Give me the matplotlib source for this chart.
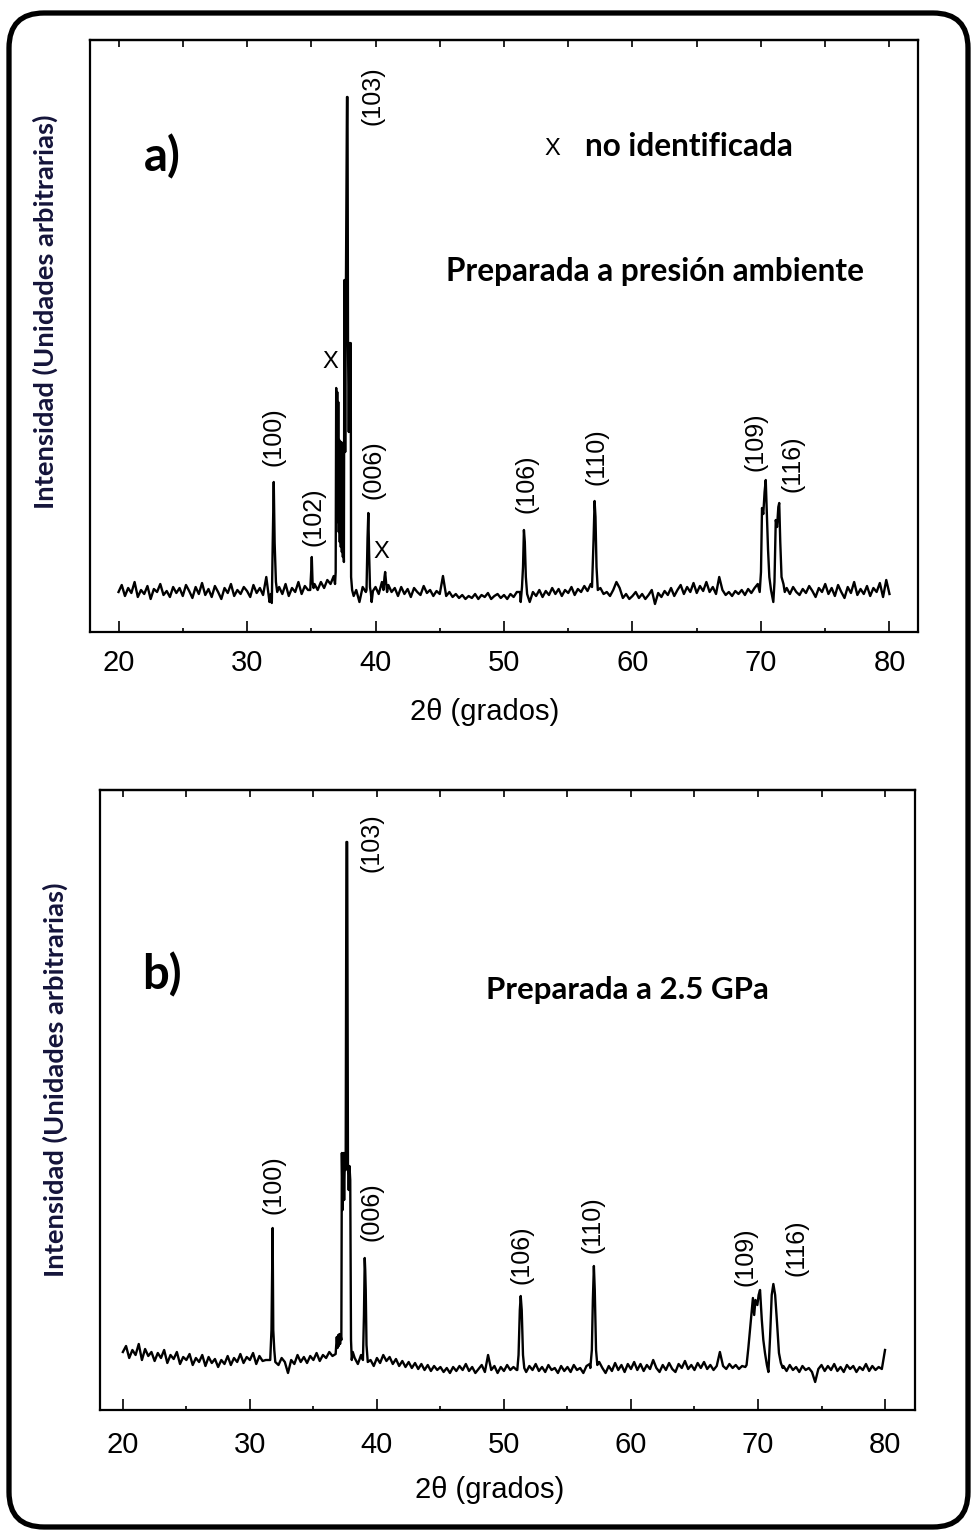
import numpy as np
import matplotlib.pyplot as plt
from matplotlib.patches import FancyBboxPatch
from matplotlib.transforms import IdentityTransform
from matplotlib.ticker import MultipleLocator

# 2theta positions of the background readings (every 0.25 deg, 20..80)
tt_bg = np.arange(20, 80.01, 0.25)

# background intensity (arb. units)
bg_a = [40, 47, 36, 44, 39, 50, 35, 42, 38, 46, 33, 43, 40, 48, 37, 41, 35, 45, 39, 44,
        36, 47, 41, 34, 45, 38, 49, 37, 43, 35, 46, 40, 33, 44, 39, 48, 36, 42, 38, 45,
        41, 35, 47, 39, 44, 37, 55, 30, 40, 40, 45, 38, 48, 36, 44, 40, 50, 38, 46, 42,
        44, 48, 42, 50, 44, 52, 48, 56, 50, 50, 50, 50, 50, 50, 42, 30, 45, 40, 40, 36,
        45, 38, 50, 55, 47, 40, 44, 36, 45, 38, 43, 35, 44, 40, 37, 46, 39, 42, 36, 41,
        38, 56, 36, 40, 35, 38, 34, 37, 33, 36, 34, 38, 33, 37, 35, 39, 33, 36, 38, 34,
        37, 33, 38, 35, 40, 40, 40, 40, 30, 40, 36, 42, 35, 41, 37, 44, 38, 43, 36, 42,
        39, 45, 37, 43, 40, 46, 41, 48, 40, 40, 44, 38, 40, 36, 42, 50, 44, 34, 38, 33,
        36, 40, 34, 38, 33, 37, 42, 28, 39, 35, 41, 37, 44, 36, 42, 47, 38, 45, 40, 49,
        39, 46, 41, 50, 40, 45, 38, 55, 42, 37, 40, 36, 41, 38, 42, 37, 43, 39, 44, 48,
        40, 40, 40, 40, 40, 40, 40, 40, 44, 38, 45, 40, 37, 43, 39, 46, 41, 35, 44, 40,
        48, 38, 44, 36, 47, 40, 34, 45, 39, 50, 37, 43, 38, 46, 36, 44, 40, 49, 35, 52,
        38]

# background intensity
bg_b = [58, 64, 52, 60, 55, 66, 50, 61, 54, 58, 49, 57, 52, 60, 47, 55, 51, 58, 46, 53,
        50, 56, 45, 52, 48, 55, 44, 53, 47, 51, 43, 50, 46, 54, 45, 52, 48, 56, 47, 53,
        50, 57, 46, 54, 49, 50, 50, 50, 50, 45, 52, 48, 37, 50, 46, 55, 48, 53, 47, 54,
        50, 57, 49, 55, 52, 58, 54, 62, 60, 60, 60, 60, 60, 52, 46, 55, 50, 50, 50, 44,
        52, 47, 55, 49, 53, 46, 51, 44, 49, 43, 48, 42, 47, 41, 46, 40, 45, 39, 44, 40,
        43, 38, 42, 37, 43, 39, 44, 40, 46, 39, 43, 37, 41, 45, 38, 55, 40, 44, 37, 43,
        39, 45, 40, 43, 40, 40, 40, 38, 44, 40, 46, 39, 43, 38, 45, 40, 42, 37, 44, 39,
        43, 38, 45, 40, 42, 37, 44, 46, 40, 40, 48, 42, 37, 44, 39, 47, 40, 45, 38, 46,
        41, 48, 40, 46, 39, 45, 41, 50, 42, 38, 45, 40, 47, 41, 38, 46, 42, 49, 41, 45,
        40, 47, 42, 48, 41, 45, 40, 44, 58, 44, 41, 46, 42, 45, 41, 44, 43, 48, 45, 45,
        45, 45, 45, 45, 45, 45, 45, 45, 44, 39, 45, 40, 43, 38, 44, 40, 42, 38, 28, 41,
        45, 39, 44, 40, 46, 39, 43, 38, 45, 41, 44, 38, 43, 40, 46, 39, 44, 40, 43, 41,
        60]

# peak profiles (2theta, intensity), panel a
peaks_a = [
    [(31.85, 38), (31.93, 29), (32.0, 89), (32.08, 150), (32.15, 89), (32.25, 50), (32.35, 40)],
    [(34.92, 42), (35.0, 62), (35.04, 75), (35.1, 50), (35.18, 44)],
    [(36.85, 48), (36.9, 60), (36.94, 244), (36.98, 120), (37.02, 240), (37.06, 110),
     (37.1, 230), (37.14, 100), (37.18, 192), (37.22, 90), (37.26, 188), (37.3, 85),
     (37.34, 190), (37.38, 80), (37.42, 102), (37.46, 75), (37.5, 100), (37.54, 70),
     (37.58, 352), (37.64, 180), (37.7, 350), (37.78, 535), (37.82, 535), (37.86, 289),
     (37.92, 200), (37.98, 289), (38.03, 210), (38.07, 289), (38.1, 55), (38.18, 42), (38.3, 36)],
    [(39.3, 42), (39.38, 94), (39.44, 119), (39.5, 80), (39.57, 45), (39.64, 39), (39.7, 30), (39.8, 41)],
    [(40.62, 42), (40.7, 55), (40.75, 60), (40.82, 50), (40.9, 40)],
    [(51.3, 30), (51.4, 45), (51.48, 65), (51.55, 102), (51.62, 90), (51.7, 55), (51.8, 38)],
    [(56.85, 45), (56.97, 92), (57.05, 131), (57.12, 115), (57.2, 65), (57.3, 42)],
    [(69.9, 40), (70.0, 60), (70.08, 124), (70.18, 118), (70.28, 140), (70.37, 152), (70.45, 120),
     (70.55, 82), (70.65, 55), (70.78, 42), (70.88, 35), (70.96, 30), (71.05, 50), (71.15, 112),
     (71.25, 105), (71.35, 125), (71.42, 129), (71.5, 90), (71.6, 55), (71.75, 48), (71.85, 40)],
]

# peak profiles, panel b
peaks_b = [
    [(31.6, 50), (31.7, 80), (31.76, 150), (31.79, 182), (31.84, 80), (31.92, 60), (32.0, 48)],
    [(36.75, 56), (36.84, 73), (36.9, 62), (36.95, 75), (37.0, 64), (37.05, 76), (37.1, 66),
     (37.15, 74), (37.2, 70), (37.24, 257), (37.3, 200), (37.36, 257), (37.42, 210), (37.48, 257),
     (37.54, 240), (37.6, 568), (37.66, 568), (37.72, 244), (37.78, 220), (37.84, 244),
     (37.9, 230), (37.96, 70), (38.02, 50), (38.1, 58)],
    [(38.9, 50), (38.98, 95), (39.04, 152), (39.08, 140), (39.12, 120), (39.18, 65), (39.28, 48)],
    [(51.05, 40), (51.15, 55), (51.25, 100), (51.32, 114), (51.4, 100), (51.5, 55), (51.6, 42)],
    [(56.8, 42), (56.92, 60), (57.0, 110), (57.08, 144), (57.15, 120), (57.25, 60), (57.35, 45)],
    [(69.1, 45), (69.24, 62), (69.42, 87), (69.6, 112), (69.7, 95), (69.8, 110), (69.95, 105),
     (70.05, 115), (70.16, 120), (70.3, 90), (70.42, 70), (70.55, 57), (70.7, 45), (70.82, 38),
     (70.95, 73), (71.08, 115), (71.21, 126), (71.35, 115), (71.5, 87), (71.65, 57), (71.8, 47),
     (71.95, 42)],
]

# reflection labels: (text, 2theta, intensity position)
labels_a = [('(103)', 39.78, 536), ('(100)', 32.05, 195), ('(102)', 35.21, 115),
            ('(006)', 39.83, 162), ('(106)', 51.79, 148), ('(110)', 57.16, 175),
            ('(109)', 69.61, 190), ('(116)', 72.47, 168)]
marks_a = [(36.51, 270), (40.48, 80)]
labels_b = [('(103)', 39.6, 567), ('(100)', 31.83, 225), ('(006)', 39.6, 198),
            ('(106)', 51.41, 155), ('(110)', 56.94, 185), ('(109)', 69.0, 153),
            ('(116)', 73.06, 162)]


def merge(bg, peaks):
    keep = np.ones(len(tt_bg), bool)
    for pk in peaks:
        keep &= ~((tt_bg >= pk[0][0]) & (tt_bg <= pk[-1][0]))
    pts = list(zip(tt_bg[keep], np.array(bg)[keep]))
    for pk in peaks:
        pts += pk
    pts.sort()
    return np.array(pts).T


W, H = 974, 1530
fig = plt.figure(figsize=(W / 100, H / 100), dpi=100)

tick_font = 'Liberation Sans'
bold_font = 'Lato'


def setup(ax, xlim, ylim, pad):
    ax.set_xlim(*xlim)
    ax.set_ylim(*ylim)
    ax.set_yticks([])
    ax.xaxis.set_major_locator(MultipleLocator(10))
    ax.xaxis.set_minor_locator(MultipleLocator(5))
    ax.tick_params(axis='x', which='major', direction='in', length=8, width=1.2,
                   labelsize=21, pad=pad)
    ax.tick_params(axis='x', which='minor', direction='in', length=3, width=1.2)
    for lab in ax.get_xticklabels():
        lab.set_fontfamily(tick_font)
    for s in ax.spines.values():
        s.set_linewidth(1.6)
    top = ax.secondary_xaxis('top')
    top.xaxis.set_major_locator(MultipleLocator(5))
    top.tick_params(direction='in', length=5, width=1.2, labeltop=False)
    top.spines['top'].set_linewidth(1.6)


# ---- panel a ----
ax1 = fig.add_axes([90 / W, 1 - 632 / H, 828 / W, 592 / H])
xa, ya = merge(bg_a, peaks_a)
ax1.plot(xa, ya, color='black', lw=1.7)
setup(ax1, (17.78, 82.22), (0, 592), 12)

for txt, x, y in labels_a:
    ax1.text(x, y, txt, rotation=90, ha='center', va='center', fontsize=18, family=tick_font)
for x, y in marks_a:
    ax1.text(x, y, 'X', ha='center', va='center', fontsize=17, family=tick_font)
ax1.text(53.8, 483, 'X', ha='center', va='center', fontsize=17, family=tick_font)
ax1.text(56.3, 485, 'no identificada', ha='left', va='center', fontsize=22.7,
         fontweight='bold', family=bold_font)
ax1.text(23.4, 475, 'a)', ha='center', va='center', fontsize=34, fontweight='bold', family=bold_font)
ax1.text(61.75, 360, 'Preparada a presión ambiente', ha='center', va='center', fontsize=22.7,
         fontweight='bold', family=bold_font)

# ---- panel b ----
ax2 = fig.add_axes([100 / W, 1 - 1410 / H, 815 / W, 620 / H])
xb, yb = merge(bg_b, peaks_b)
ax2.plot(xb, yb, color='black', lw=1.7)
setup(ax2, (18.2, 82.36), (0, 620), 15)

for txt, x, y in labels_b:
    ax2.text(x, y, txt, rotation=90, ha='center', va='center', fontsize=18, family=tick_font)
ax2.text(23.1, 435, 'b)', ha='center', va='center', fontsize=34, fontweight='bold', family=bold_font)
ax2.text(59.7, 420, 'Preparada a 2.5 GPa', ha='center', va='center', fontsize=22.5,
         fontweight='bold', family=bold_font)

# axis titles
ylab = 'Intensidad (Unidades arbitrarias)'
fig.text(45 / W, 1 - 312 / H, ylab, rotation=90, ha='center', va='center', fontsize=19.7,
         fontweight='bold', family=bold_font, color='#14143a')
fig.text(55 / W, 1 - 1080 / H, ylab, rotation=90, ha='center', va='center', fontsize=19.7,
         fontweight='bold', family=bold_font, color='#14143a')
fig.text(485 / W, 1 - 712 / H, '2θ (grados)', ha='center', va='center', fontsize=21,
         family=tick_font)
fig.text(490 / W, 1 - 1490 / H, '2θ (grados)', ha='center', va='center', fontsize=21,
         family=tick_font)

# rounded frame around the whole figure
frame = FancyBboxPatch((9, 3), 959, 1514, boxstyle='round,pad=0,rounding_size=35',
                       transform=IdentityTransform(), lw=3.8, ec='black', fc='none')
fig.patches.append(frame)

fig.savefig('out.png', dpi=100)
